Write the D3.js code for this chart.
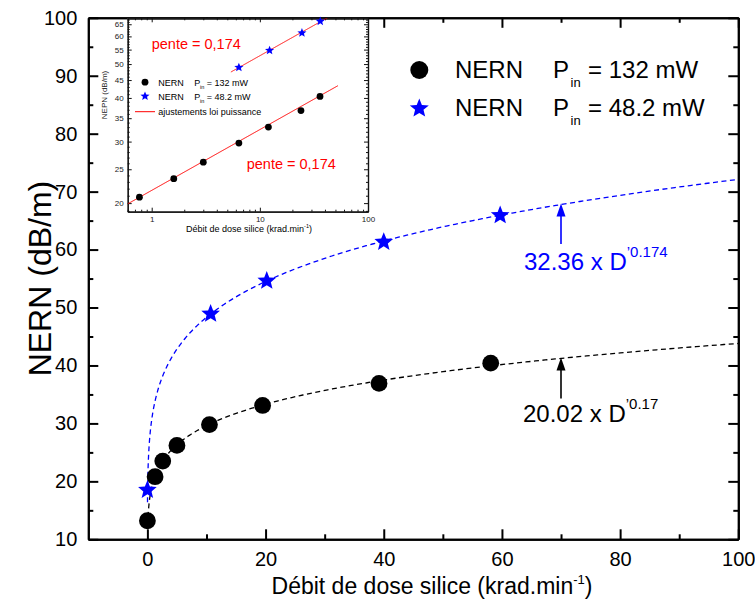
<!DOCTYPE html>
<html><head><meta charset="utf-8">
<script src="https://cdn.jsdelivr.net/npm/d3@7"></script>
<style>body{margin:0;background:#fff} svg{font-family:"Liberation Sans",Arial,sans-serif}</style>
</head><body><svg id="c" width="755" height="604"></svg>
<script>
// ---------- data ----------
const xTicksMain = [0, 20, 40, 60, 80, 100];
const xMinorMain = [10, 30, 50, 70, 90];
const yTicksMain = [10, 20, 30, 40, 50, 60, 70, 80, 90, 100];
const yMinorMain = [15, 25, 35, 45, 55, 65, 75, 85, 95];

const doseHigh = [0, 1.3, 2.6, 5.0, 10.5, 19.5, 39.2, 58.1];      // Pin = 132 mW
const nernHigh = [13.2, 20.8, 23.5, 26.2, 29.8, 33.1, 36.9, 40.4];
const doseLow  = [0, 10.7, 20.2, 40.0, 59.7];                     // Pin = 48.2 mW
const nernLow  = [18.5, 48.9, 54.6, 61.3, 65.9];

const fitHigh = [20.02, 0.17];   // a, exponent
const fitLow  = [32.36, 0.174];
const fitRangeHigh = [0.06, 100];
const fitRangeLow  = [0.02, 100];

const insetDoseHigh = [0.77, 1.6, 3.0, 6.4, 12, 24, 36];
const insetNernHigh = [20.8, 23.5, 26.2, 29.7, 33.0, 36.8, 40.4];
const insetDoseLow  = [6.4, 12.3, 24.5, 36.2];
const insetNernLow  = [48.9, 54.7, 61.4, 66.3];
const insetFitHigh = [21.75, 0.174];
const insetFitLow  = [35.38, 0.174];
const insetFitRangeHigh = [0.6, 52.7];
const insetFitRangeLow  = [5.4, 45];
const insetXTicks = [1, 10, 100];
const insetYTicks = [20, 25, 30, 35, 40, 45, 50, 55, 60, 65];

(function () {
// ---------- setup ----------
const svg = d3.select("#c");
const BLUE = "#0000ff", RED = "#ff0000";

const x = d3.scaleLinear().domain([-10, 100]).range([88.3, 738.3]);
const y = d3.scaleLinear().domain([10, 100]).range([539.3, 17.8]);

function starPath(R) {
  const r = R * 0.44, p = [];
  for (let i = 0; i < 10; i++) {
    const a = -Math.PI / 2 + i * Math.PI / 5, rad = i % 2 ? r : R;
    p.push([rad * Math.cos(a), rad * Math.sin(a)]);
  }
  return "M" + p.map(d => d[0].toFixed(2) + "," + d[1].toFixed(2)).join("L") + "Z";
}

function styleAxis(g, w) {
  g.select(".domain").attr("stroke", "#000").attr("stroke-width", w);
  g.selectAll(".tick line").attr("stroke", "#000").attr("stroke-width", w);
}

// ---------- main axes ----------
const gAx = svg.append("g");
const axBottom = gAx.append("g").attr("transform", `translate(0,${y(10)})`)
  .call(d3.axisBottom(x).tickValues(xTicksMain).tickSize(-10).tickSizeOuter(0).tickPadding(13));
axBottom.selectAll("text").attr("font-size", 20).attr("fill", "#000").attr("font-family", "Liberation Sans, Arial");
styleAxis(axBottom, 2);
const axBottomMinor = gAx.append("g").attr("transform", `translate(0,${y(10)})`)
  .call(d3.axisBottom(x).tickValues(xMinorMain).tickSize(-5).tickSizeOuter(0).tickFormat(""));
styleAxis(axBottomMinor, 2);
const axTop = gAx.append("g").attr("transform", `translate(0,${y(100)})`)
  .call(d3.axisTop(x).tickValues(xTicksMain).tickSize(-10).tickSizeOuter(0).tickFormat(""));
styleAxis(axTop, 2);
const axTopMinor = gAx.append("g").attr("transform", `translate(0,${y(100)})`)
  .call(d3.axisTop(x).tickValues(xMinorMain).tickSize(-5).tickSizeOuter(0).tickFormat(""));
styleAxis(axTopMinor, 2);

const axLeft = gAx.append("g").attr("transform", `translate(${x(-10)},0)`)
  .call(d3.axisLeft(y).tickValues(yTicksMain).tickSize(-10).tickSizeOuter(0).tickPadding(11));
axLeft.selectAll("text").attr("font-size", 20).attr("fill", "#000").attr("font-family", "Liberation Sans, Arial");
styleAxis(axLeft, 2);
const axLeftMinor = gAx.append("g").attr("transform", `translate(${x(-10)},0)`)
  .call(d3.axisLeft(y).tickValues(yMinorMain).tickSize(-5).tickSizeOuter(0).tickFormat(""));
styleAxis(axLeftMinor, 2);
const axRight = gAx.append("g").attr("transform", `translate(${x(100)},0)`)
  .call(d3.axisRight(y).tickValues(yTicksMain).tickSize(-10).tickSizeOuter(0).tickFormat(""));
styleAxis(axRight, 2);
const axRightMinor = gAx.append("g").attr("transform", `translate(${x(100)},0)`)
  .call(d3.axisRight(y).tickValues(yMinorMain).tickSize(-5).tickSizeOuter(0).tickFormat(""));
styleAxis(axRightMinor, 2);

// axis titles
svg.append("text").attr("transform", `translate(40,${(y(10) + y(100)) / 2}) rotate(-90)`)
  .attr("text-anchor", "middle").attr("dy", "0.35em").attr("font-size", 32).text("NERN (dB/m)");
const xt = svg.append("text").attr("x", 432).attr("y", 594).attr("text-anchor", "middle").attr("font-size", 23);
xt.append("tspan").text("Débit de dose silice (krad.min");
xt.append("tspan").attr("font-size", 13).attr("dy", -10).text("-1");
xt.append("tspan").attr("dy", 10).text(")");

// ---------- main fits ----------
svg.append("clipPath").attr("id", "mainClip").append("rect")
  .attr("x", x(-10)).attr("y", y(100)).attr("width", x(100) - x(-10)).attr("height", y(10) - y(100));

function fitPoints(coef, range) {
  const n = 300, pts = [];
  for (let i = 0; i <= n; i++) {
    const d = range[0] * Math.pow(range[1] / range[0], i / n);
    pts.push([d, coef[0] * Math.pow(d, coef[1])]);
  }
  return pts;
}
const lineMain = d3.line().x(d => x(d[0])).y(d => y(d[1]));
svg.append("path").attr("clip-path", "url(#mainClip)").attr("d", lineMain(fitPoints(fitLow, fitRangeLow)))
  .attr("fill", "none").attr("stroke", BLUE).attr("stroke-width", 1.3).attr("stroke-dasharray", "5,3.5");
svg.append("path").attr("clip-path", "url(#mainClip)").attr("d", lineMain(fitPoints(fitHigh, fitRangeHigh)))
  .attr("fill", "none").attr("stroke", "#000").attr("stroke-width", 1.3).attr("stroke-dasharray", "5,3.5");

// ---------- main points ----------
svg.append("g").selectAll("circle").data(doseHigh.map((d, i) => [d, nernHigh[i]])).join("circle")
  .attr("cx", d => x(d[0])).attr("cy", d => y(d[1])).attr("r", 8.4).attr("fill", "#000");
svg.append("g").selectAll("path").data(doseLow.map((d, i) => [d, nernLow[i]])).join("path")
  .attr("transform", d => `translate(${x(d[0])},${y(d[1])})`).attr("d", starPath(9.8)).attr("fill", BLUE);

// ---------- legend ----------
const legendRows = [
  { y: 78, sym: "circle", color: "#000", label: "= 132 mW" },
  { y: 116, sym: "star", color: BLUE, label: "= 48.2 mW" }
];
legendRows.forEach(r => {
  if (r.sym === "circle") svg.append("circle").attr("cx", 419.3).attr("cy", r.y - 8).attr("r", 9).attr("fill", r.color);
  else svg.append("path").attr("transform", `translate(419.3,${r.y - 7.5})`).attr("d", starPath(10)).attr("fill", r.color);
  svg.append("text").attr("x", 455).attr("y", r.y).attr("font-size", 24).text("NERN");
  svg.append("text").attr("x", 553).attr("y", r.y).attr("font-size", 24).text("P");
  svg.append("text").attr("x", 570.5).attr("y", r.y + 9).attr("font-size", 13).text("in");
  svg.append("text").attr("x", 588).attr("y", r.y).attr("font-size", 24).text(r.label);
});

// ---------- annotations ----------
function arrow(xp, yTip, yTail, color) {
  svg.append("line").attr("x1", xp).attr("x2", xp).attr("y1", yTail).attr("y2", yTip + 10)
    .attr("stroke", color).attr("stroke-width", 1.6);
  svg.append("path").attr("d", `M${xp},${yTip}L${xp - 4.5},${yTip + 13}L${xp + 4.5},${yTip + 13}Z`).attr("fill", color);
}
arrow(561, 203.5, 244, BLUE);
arrow(561, 357.5, 398.5, "#000");
const a1 = svg.append("text").attr("x", 524).attr("y", 270).attr("font-size", 24).attr("fill", BLUE);
a1.append("tspan").text("32.36 x D");
a1.append("tspan").attr("font-size", 15).attr("dy", -13).text("’0.174");
const a2 = svg.append("text").attr("x", 523).attr("y", 422).attr("font-size", 24).attr("fill", "#000");
a2.append("tspan").text("20.02 x D");
a2.append("tspan").attr("font-size", 15).attr("dy", -13).text("’0.17");

// ---------- inset ----------
const xi = d3.scaleLog().domain([0.6, 100]).range([127.7, 368]);
const yi = d3.scaleLog().domain([18.9, 67.6]).range([211.7, 18.3]);
const inset = svg.append("g");
inset.append("rect").attr("x", 127.7).attr("y", 18.3).attr("width", 368 - 127.7).attr("height", 211.7 - 18.3)
  .attr("fill", "#fff");

const xiMinor = [];
[0.1, 1, 10].forEach(dec => { for (let k = 2; k <= 9; k++) { const v = dec * k; if (v > 0.6 && v < 100) xiMinor.push(v); } });
const yiMinor = d3.range(19, 68).filter(v => v % 5 !== 0);

function styleInset(g) {
  g.select(".domain").attr("stroke", "#111").attr("stroke-width", 1.2);
  g.selectAll(".tick line").attr("stroke", "#111").attr("stroke-width", 1);
  g.selectAll("text").attr("font-size", 8).attr("fill", "#222").attr("font-family", "Liberation Sans, Arial");
}
[
  [d3.axisBottom(xi).tickValues(insetXTicks).tickSize(-4).tickFormat(d3.format("d")).tickPadding(5), `translate(0,211.7)`],
  [d3.axisBottom(xi).tickValues(xiMinor).tickSize(-2).tickFormat(""), `translate(0,211.7)`],
  [d3.axisTop(xi).tickValues(insetXTicks).tickSize(-4).tickFormat(""), `translate(0,18.3)`],
  [d3.axisTop(xi).tickValues(xiMinor).tickSize(-2).tickFormat(""), `translate(0,18.3)`],
  [d3.axisLeft(yi).tickValues(insetYTicks).tickSize(-4).tickFormat(d3.format("d")).tickPadding(4), `translate(127.7,0)`],
  [d3.axisLeft(yi).tickValues(yiMinor).tickSize(-2).tickFormat(""), `translate(127.7,0)`],
  [d3.axisRight(yi).tickValues(insetYTicks).tickSize(-4).tickFormat(""), `translate(368,0)`],
  [d3.axisRight(yi).tickValues(yiMinor).tickSize(-2).tickFormat(""), `translate(368,0)`]
].forEach(([ax, tr]) => {
  const g = inset.append("g").attr("transform", tr).call(ax.tickSizeOuter(0));
  styleInset(g);
});

inset.append("text").attr("x", 249).attr("y", 232).attr("text-anchor", "middle").attr("font-size", 9)
  .call(t => { t.append("tspan").text("Débit de dose silice (krad.min");
               t.append("tspan").attr("font-size", 5.5).attr("dy", -4).text("-1");
               t.append("tspan").attr("dy", 4).text(")"); });
inset.append("text").attr("transform", "translate(107,95) rotate(-90)").attr("text-anchor", "middle")
  .attr("font-size", 8).attr("fill", "#222").text("NEPN (dB/m)");

svg.append("clipPath").attr("id", "insetClip").append("rect")
  .attr("x", 127.7).attr("y", 18.3).attr("width", 368 - 127.7).attr("height", 211.7 - 18.3);
const lineInset = d3.line().x(d => xi(d[0])).y(d => yi(d[1]));
[[insetFitHigh, insetFitRangeHigh], [insetFitLow, insetFitRangeLow]].forEach(([c, r]) => {
  inset.append("path").attr("clip-path", "url(#insetClip)").attr("d", lineInset(fitPoints(c, r)))
    .attr("fill", "none").attr("stroke", RED).attr("stroke-width", 1);
});
inset.append("g").selectAll("circle").data(insetDoseHigh.map((d, i) => [d, insetNernHigh[i]])).join("circle")
  .attr("cx", d => xi(d[0])).attr("cy", d => yi(d[1])).attr("r", 3.4).attr("fill", "#000");
inset.append("g").selectAll("path").data(insetDoseLow.map((d, i) => [d, insetNernLow[i]])).join("path")
  .attr("transform", d => `translate(${xi(d[0])},${yi(d[1])})`).attr("d", starPath(4.8)).attr("fill", BLUE);

// inset legend
const insetLegend = [
  { y: 85.5, sym: "circle", color: "#000", label: "= 132 mW" },
  { y: 99.5, sym: "star", color: BLUE, label: "= 48.2 mW" }
];
insetLegend.forEach(r => {
  if (r.sym === "circle") inset.append("circle").attr("cx", 145).attr("cy", r.y - 3.3).attr("r", 3.4).attr("fill", r.color);
  else inset.append("path").attr("transform", `translate(145,${r.y - 3.3})`).attr("d", starPath(4.8)).attr("fill", r.color);
  inset.append("text").attr("x", 158.3).attr("y", r.y).attr("font-size", 9).text("NERN");
  inset.append("text").attr("x", 194.3).attr("y", r.y).attr("font-size", 9).text("P");
  inset.append("text").attr("x", 200).attr("y", r.y + 3.5).attr("font-size", 5.5).text("in");
  inset.append("text").attr("x", 206.7).attr("y", r.y).attr("font-size", 9).text(r.label);
});
inset.append("line").attr("x1", 135).attr("x2", 155).attr("y1", 111.7).attr("y2", 111.7).attr("stroke", RED).attr("stroke-width", 1);
inset.append("text").attr("x", 158.3).attr("y", 114.8).attr("font-size", 9).text("ajustements loi puissance");

inset.append("text").attr("x", 151.7).attr("y", 49.3).attr("font-size", 14.5).attr("fill", RED).text("pente = 0,174");
inset.append("text").attr("x", 246.7).attr("y", 168.5).attr("font-size", 14.5).attr("fill", RED).text("pente = 0,174");
})();
</script></body></html>
